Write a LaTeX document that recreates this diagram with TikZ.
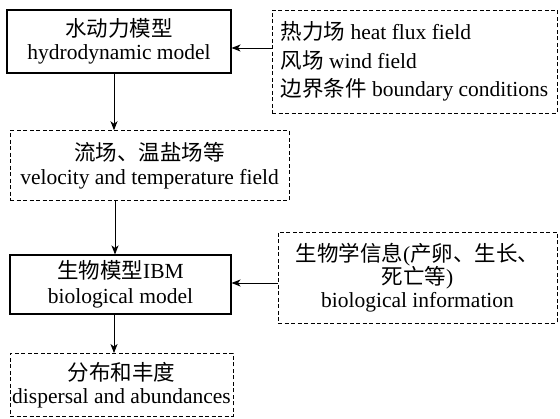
\documentclass[tikz,border=0pt]{standalone}
\usepackage{fontspec}
\setmainfont{Liberation Serif}
\newfontfamily\cjk{Noto Sans CJK SC}
\usetikzlibrary{arrows.meta}
\begin{document}
\begin{tikzpicture}[x=1pt,y=-1pt,
  base/.style={inner sep=0pt,align=center,font=\fontsize{21.5}{23.5}\selectfont},
  solidbox/.style={base,draw,line width=1.1pt},
  dashbox/.style={base,draw,line width=0.9pt,dash pattern=on 4pt off 2.5pt},
  arr/.style={line width=0.9pt,-{Stealth[length=9pt,width=7pt,inset=2.5pt]}}]
\useasboundingbox (0,0) rectangle (560,419);
\node[solidbox,minimum width=224pt,minimum height=63pt] (b1) at (119,41.5)
  {{\cjk 水动力模型}\\hydrodynamic model};
\node[dashbox,minimum width=279pt,minimum height=70pt] (b2) at (149.5,165.7)
  {{\cjk 流场、温盐场等}\\velocity and temperature field};
\node[solidbox,minimum width=221pt,minimum height=59pt,
  font=\fontsize{21.5}{24.5}\selectfont] (b3) at (120.5,284.5)
  {{\cjk 生物模型}IBM\\biological model};
\node[dashbox,minimum width=223pt,minimum height=63pt] (b4) at (121.5,385)
  {{\cjk 分布和丰度}\\dispersal and abundances};
\node[dashbox,minimum width=285pt,minimum height=103pt,align=left,
  font=\fontsize{21.5}{28.5}\selectfont] (rb1) at (414.5,61.5)
  {{\cjk 热力场} heat flux field\\{\cjk 风场} wind field\\{\cjk 边界条件} boundary conditions};
\node[dashbox,minimum width=279pt,minimum height=91pt,
  font=\fontsize{21.5}{23}\selectfont] (rb2) at (417.5,277.5)
  {{\cjk 生物学信息}({\cjk 产卵、生长、}\\{\cjk 死亡等})\\biological information};
\draw[arr] ([xshift=-5pt]b1.south) -- ([xshift=-5pt]b1.south |- b2.north);
\draw[arr] ([xshift=-5.5pt]b3.north |- b2.south) -- ([xshift=-5.5pt]b3.north);
\draw[arr] ([xshift=-6.5pt]b3.south) -- ([xshift=-6.5pt]b3.south |- b4.north);
\draw[arr] ([yshift=13.5pt]rb1.west) -- ([yshift=13.5pt]rb1.west -| b1.east);
\draw[arr] ([yshift=1.5pt]b3.east -| rb2.west) -- ([yshift=1.5pt]b3.east);
\end{tikzpicture}
\end{document}
